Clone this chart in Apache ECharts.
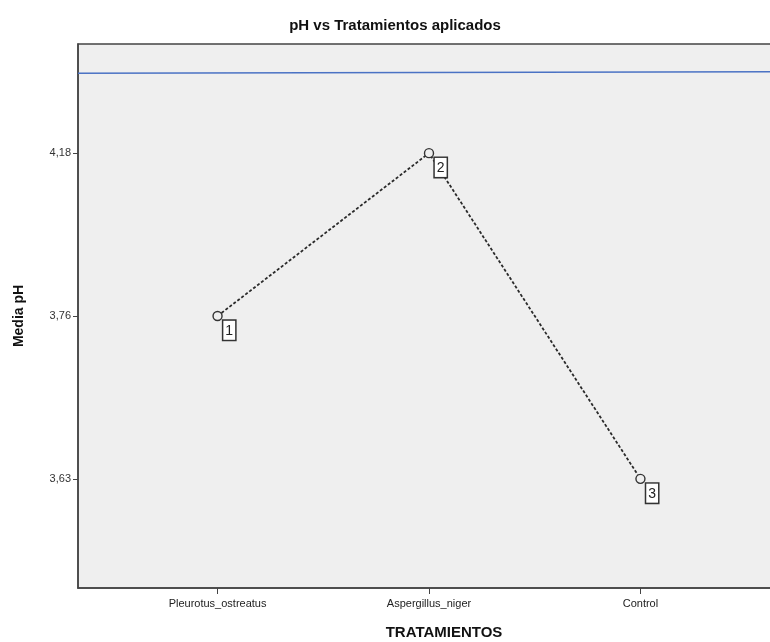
<!DOCTYPE html>
<html>
<head>
<meta charset="utf-8">
<script src="https://cdn.jsdelivr.net/npm/echarts@6/dist/echarts.min.js"></script>
<style>
  html, body { margin: 0; padding: 0; background: #fff; }
  #chart { width: 770px; height: 642px; }
</style>
</head>
<body>
<div id="chart"></div>
<script>
// categories on x, SPSS-style tick labels on y
const categories = ['Pleurotus_ostreatus', 'Aspergillus_niger', 'Control']
const yTickValues = [3.63, 3.76, 4.18]
const yTickLabels = ['3,63', '3,76', '4,18']
const meanPH = [3.76, 4.18, 3.63]
const pointLabels = ['1', '2', '3']
// blue reference line (in tick-position units, left / right end)
const refLine = [2.49, 2.5]

// SPSS spaces the y ticks evenly, so place values by their tick position
const yPos = v => yTickValues.indexOf(v)

const font = 'Liberation Sans, Arial, sans-serif'

const option = {
  animation: false,
  title: {
    text: 'pH vs Tratamientos aplicados',
    left: 390,
    textAlign: 'center',
    top: 13,
    textStyle: { fontFamily: font, fontSize: 15, fontWeight: 'bold', color: '#111' }
  },
  grid: {
    left: 78,
    top: 44,
    width: 702,
    height: 544,
    outerBoundsMode: 'none',
    containLabel: false,
    show: true,
    backgroundColor: '#efefef',
    borderColor: '#444',
    borderWidth: 1.5
  },
  xAxis: [{
    type: 'value',
    min: -0.66,
    max: 2.66,
    name: 'TRATAMIENTOS',
    nameLocation: 'middle',
    nameGap: 37,
    nameTextStyle: { fontFamily: font, fontSize: 15, fontWeight: 'bold', color: '#111', padding: [0, 0, 0, 30] },
    axisLine: { show: true, onZero: false, lineStyle: { color: '#444', width: 1.5 } },
    axisTick: { show: true, length: 6, customValues: [0, 1, 2], lineStyle: { color: '#444' } },
    axisLabel: {
      margin: 10,
      customValues: [0, 1, 2],
      formatter: v => categories[Math.round(v)],
      fontFamily: font, fontSize: 11, color: '#222'
    },
    splitLine: { show: false }
  }, {
    type: 'value',
    min: 0,
    max: 1,
    show: false
  }],
  yAxis: {
    type: 'value',
    min: -0.67,
    max: 2.67,
    name: 'Media pH',
    nameLocation: 'middle',
    nameRotate: 90,
    nameGap: 52,
    nameTextStyle: { fontFamily: font, fontSize: 14, fontWeight: 'bold', color: '#111' },
    axisLine: { show: true, onZero: false, lineStyle: { color: '#444', width: 1.5 } },
    axisTick: { show: true, length: 5, customValues: [0, 1, 2], lineStyle: { color: '#444' } },
    axisLabel: {
      margin: 7,
      customValues: [0, 1, 2],
      formatter: v => yTickLabels[Math.round(v)],
      fontFamily: font, fontSize: 11, color: '#333'
    },
    splitLine: { show: false }
  },
  series: [
    {
      type: 'line',
      xAxisIndex: 1,
      data: [[0, refLine[0]], [1, refLine[1]]],
      symbol: 'none',
      lineStyle: { color: '#4a72c4', width: 1.5 },
      silent: true
    },
    {
      type: 'line',
      data: meanPH.map((v, i) => [i, yPos(v)]),
      symbol: 'circle',
      symbolSize: 9,
      itemStyle: { color: '#efefef', borderColor: '#333', borderWidth: 1.4 },
      lineStyle: { color: '#2a2a2a', width: 1.8, type: [3, 2] },
      label: {
        show: true,
        position: [11, 10],
        align: 'left',
        verticalAlign: 'top',
        formatter: p => pointLabels[p.dataIndex],
        fontFamily: font,
        fontSize: 14,
        color: '#222',
        backgroundColor: '#fff',
        borderColor: '#333',
        borderWidth: 1.5,
        padding: [3, 2, 2, 2]
      }
    }
  ]
}

const myChart = echarts.init(document.getElementById('chart'))
myChart.setOption(option)
</script>
</body>
</html>
